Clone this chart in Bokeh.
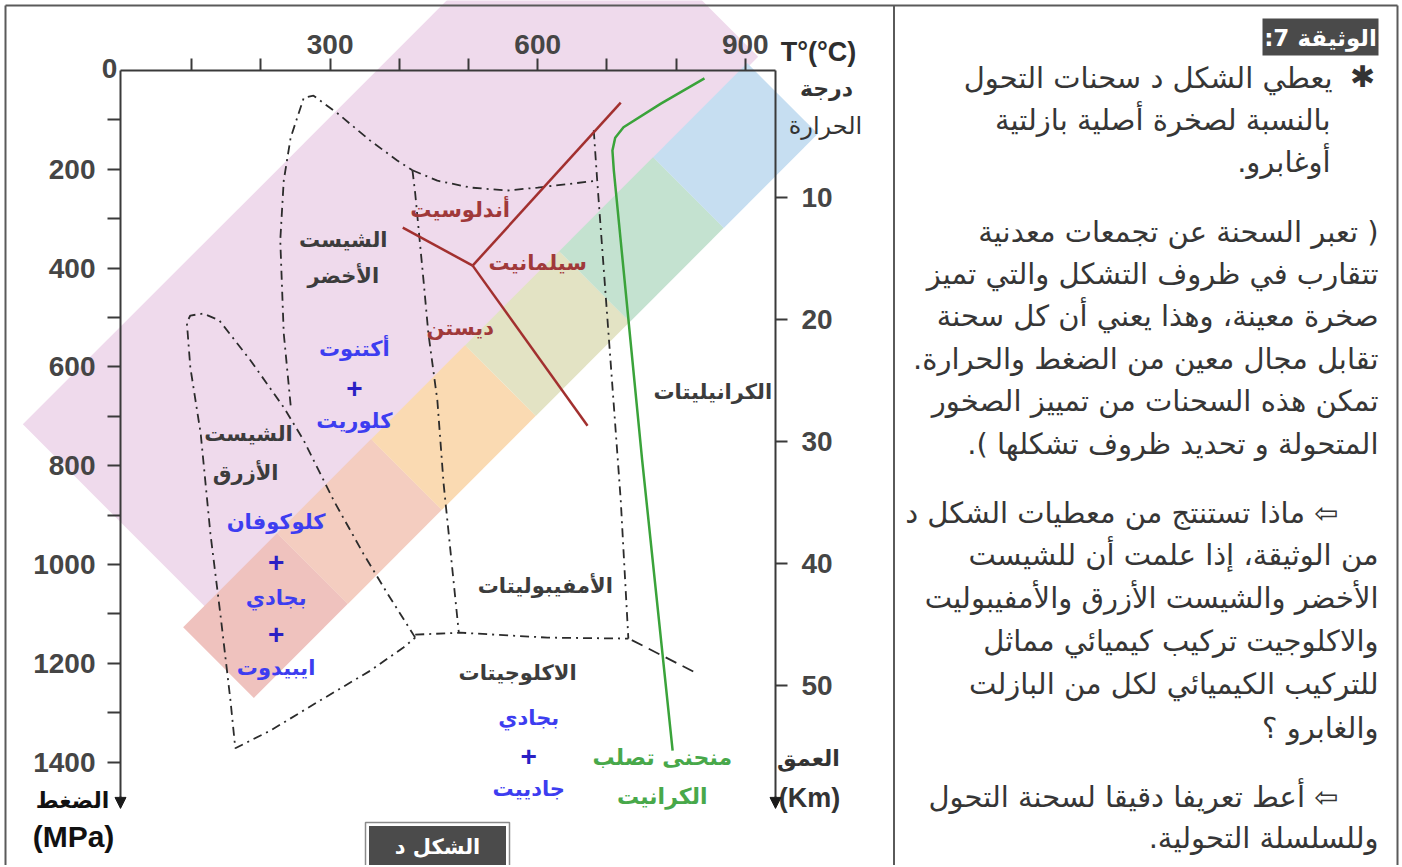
import numpy as np
from bokeh.plotting import figure
from bokeh.models import Range1d, LinearAxis, FixedTicker, Arrow, NormalHead
from bokeh.embed import file_html
from bokeh.resources import INLINE
from bokeh.core.properties import value

AR = "DejaVu Sans"
NUM = "Liberation Sans"
W, H = 1400, 865

# ---------------- data ----------------
temp_ticks = [100, 200, 300, 400, 500, 600, 700, 800, 900]
temp_tick_labels = {300: "300", 600: "600", 900: "900"}
pressure_ticks = [100, 200, 300, 400, 500, 600, 700, 800, 900, 1000, 1100, 1200, 1300, 1400]
pressure_tick_labels = {200: "200", 400: "400", 600: "600", 800: "800",
                        1000: "1000", 1200: "1200", 1400: "1400"}
depth_ticks = [10, 20, 30, 40, 50]

# facies boundaries (T in degC, P in MPa)
greenschist_T = [243, 233, 228, 233, 243, 262, 276, 311, 358, 397, 419]
greenschist_P = [678, 532, 344, 223, 136, 55, 51, 87, 142, 182, 202]
amph_top_T = [419, 455, 503, 556, 600, 686]
amph_top_P = [202, 223, 237, 243, 237, 223]
amph_left_T = [419, 423, 435, 442, 455, 464, 486]
amph_left_P = [202, 249, 425, 532, 668, 836, 1138]
amph_right_T = [681, 686, 710, 720, 731]
amph_right_P = [121, 223, 678, 870, 1150]
eclogite_top_T = [423, 488, 614, 731]
eclogite_top_P = [1142, 1138, 1148, 1150]
granulite_ext_T = [736, 831]
granulite_ext_P = [1153, 1221]
blueschist_T = [423, 383, 348, 305, 262, 233, 185, 140, 117, 98, 93, 98, 113, 127,
                142, 156, 163, 214, 286, 358, 406, 423]
blueschist_P = [1148, 1059, 978, 870, 749, 682, 587, 506, 492, 496, 510, 601, 735, 937,
                1107, 1275, 1372, 1336, 1275, 1215, 1168, 1148]

# aluminosilicate lines
and_sil_T = [506, 720]
and_sil_P = [395, 65]
ky_and_T = [405, 506]
ky_and_P = [318, 395]
ky_sil_T = [506, 672]
ky_sil_P = [395, 719]

# granite solidus
solidus_T = [841, 778, 724, 712, 708, 710, 751, 795]
solidus_P = [16, 67, 115, 136, 162, 202, 789, 1377]

# labels inside the diagram (T, P)
facies_text = ["الشيست", "الأخضر", "الشيست", "الأزرق", "الأمفيبوليتات", "الكرانيليتات", "الاكلوجيتات"]
facies_T = [319, 319, 182, 178, 611, 853, 571]
facies_P = [344, 415, 735, 814, 1043, 650, 1219]
alumino_text = ["أندلوسيت", "سيلمانيت", "ديستن"]
alumino_T = [488, 600, 488]
alumino_P = [283, 389, 522]
mineral_text = ["أكتنوت", "كلوريت", "كلوكوفان", "بجادي", "ايبيدوت", "بجادي", "جادييت"]
mineral_T = [335, 335, 222, 222, 222, 587, 587]
mineral_P = [563, 710, 913, 1067, 1210, 1310, 1455]
plus_T = [335, 222, 222, 587]
plus_P = [644, 996, 1142, 1389]
solidus_text = ["منحنى تصلب", "الكرانيت"]
solidus_text_T = [780, 780]
solidus_text_P = [1391, 1470]

# text panel
panel_lines = [
    "يعطي الشكل د سحنات التحول",
    "بالنسبة لصخرة أصلية بازلتية",
    ".أوغابرو",
    "تعبر السحنة عن تجمعات معدنية )",
    "تتقارب في ظروف التشكل والتي تميز",
    "صخرة معينة، وهذا يعني أن كل سحنة",
    ".تقابل مجال معين من الضغط والحرارة",
    "تمكن هذه السحنات من تمييز الصخور",
    ".( المتحولة و تحديد ظروف تشكلها",
    "ماذا تستنتج من معطيات الشكل د ⇦",
    "من الوثيقة، إذا علمت أن للشيست",
    "الأخضر والشيست الأزرق والأمفيبوليت",
    "والاكلوجيت تركيب كيميائي مماثل",
    "للتركيب الكيميائي لكل من البازلت",
    "والغابرو ؟",
    "أعط تعريفا دقيقا لسحنة التحول ⇦",
    ".وللسلسلة التحولية",
]

# ---------------- layout constants (pixels) ----------------
T_PX0, T_PXS = 122.0, 0.692      # x pixel of 0 degC, pixels per degC
P_PX0, P_PXS = 70.0, 0.494       # y pixel of 0 MPa, pixels per MPa
D_PX0, D_PXS = 75.0, 12.2        # y pixel of 0 km, pixels per km
AX_LEFT, AX_RIGHT, AX_BOTTOM = 120.0, 775.0, 800.0


def tx(v):
    return (v - T_PX0) / T_PXS


def ty(v):
    return (v - P_PX0) / P_PXS


def txs(vs):
    return [tx(v) for v in vs]


def tys(vs):
    return [ty(v) for v in vs]


t_axis_l, t_axis_r = tx(AX_LEFT), tx(AX_RIGHT)
p_axis_end = ty(AX_BOTTOM)
d_axis_top, d_axis_end = (P_PX0 - D_PX0) / D_PXS, (AX_BOTTOM - D_PX0) / D_PXS

p = figure(width=W, height=H, x_range=Range1d(tx(0), tx(W)), y_range=Range1d(ty(H), ty(0)),
           title=None, output_backend="svg", toolbar_location=None,
           x_axis_location=None, y_axis_location=None, min_border=0)
p.extra_y_ranges = {"depth": Range1d((H - D_PX0) / D_PXS, (0 - D_PX0) / D_PXS)}
p.xgrid.visible = False
p.ygrid.visible = False
p.outline_line_color = None
p.background_fill_color = "white"
p.border_fill_color = "white"

# ---- watermark (background decoration) ----
p.rect(x=txs([390]), y=tys([240]), width=780, height=260, width_units="screen",
       height_units="screen", angle=np.pi / 4, fill_color="#efdaec", line_color=None)
p.rect(x=txs([265, 359, 453, 547, 641, 735]), y=tys([615, 521, 427, 333, 239, 145]),
       width=133, height=100, width_units="screen", height_units="screen", angle=np.pi / 4,
       fill_color=["#efc2be", "#f4cdc0", "#fadab2", "#e3e3c4", "#c4e2d0", "#c6def1"],
       line_color=None)

# ---- page frame lines ----
p.segment(x0=txs([5, 5, 893.5, 1397]), y0=tys([5, 5, 5, 5]),
          x1=txs([1397, 5, 893.5, 1397]), y1=tys([5, H, H, H]),
          line_color="#5a5a5a", line_width=2)


# ---- axes ----
def style_axis(ax, out_len, standoff):
    ax.axis_line_color = "#3a3a3a"
    ax.axis_line_width = 2
    ax.major_tick_line_color = "#3a3a3a"
    ax.major_tick_line_width = 2
    ax.major_tick_in = 0
    ax.major_tick_out = out_len
    ax.minor_tick_line_color = None
    ax.major_label_text_font = NUM
    ax.major_label_text_font_size = "28px"
    ax.major_label_text_font_style = "bold"
    ax.major_label_text_color = "#454545"
    ax.major_label_standoff = standoff


top_axis = LinearAxis(ticker=FixedTicker(ticks=temp_ticks), fixed_location=0,
                      bounds=(t_axis_l, t_axis_r),
                      major_label_overrides={t: temp_tick_labels.get(t, "") for t in temp_ticks})
style_axis(top_axis, 12, 5)
p.add_layout(top_axis, "above")

left_axis = LinearAxis(ticker=FixedTicker(ticks=pressure_ticks), fixed_location=t_axis_l,
                       bounds=(0, p_axis_end),
                       major_label_overrides={t: pressure_tick_labels.get(t, "") for t in pressure_ticks})
style_axis(left_axis, 13, 12)
p.add_layout(left_axis, "left")

right_axis = LinearAxis(y_range_name="depth", ticker=FixedTicker(ticks=depth_ticks),
                        fixed_location=t_axis_r, bounds=(d_axis_top, d_axis_end))
style_axis(right_axis, 12, 14)
p.add_layout(right_axis, "right")

for xa in (t_axis_l, t_axis_r):
    p.add_layout(Arrow(end=NormalHead(size=11, fill_color="#1a1a1a", line_color="#1a1a1a", line_width=1),
                       x_start=xa, y_start=p_axis_end - 8, x_end=xa, y_end=p_axis_end + 16,
                       line_color="#2a2a2a", line_width=2))

# ---- facies boundaries ----
kline = dict(line_color="#2b2b2b", line_width=1.8, line_dash="9 5 2 5")
p.line(greenschist_T, greenschist_P, **kline)
p.line(amph_top_T, amph_top_P, **kline)
p.line(amph_left_T, amph_left_P, **kline)
p.line(amph_right_T, amph_right_P, **kline)
p.line(eclogite_top_T, eclogite_top_P, **kline)
p.line(blueschist_T, blueschist_P, **kline)
p.line(granulite_ext_T, granulite_ext_P, line_color="#2b2b2b", line_width=1.8, line_dash="12 7")

red = "#a2302f"
p.line(and_sil_T, and_sil_P, line_color=red, line_width=2.5)
p.line(ky_and_T, ky_and_P, line_color=red, line_width=2.5)
p.line(ky_sil_T, ky_sil_P, line_color=red, line_width=2.5)
p.line(solidus_T, solidus_P, line_color="#3aa33a", line_width=2.5)


# ---- labels ----
def tlabels(txt, xs, ys, color, size="21px", style="bold", font=AR, align="center"):
    p.text(x=xs, y=ys, text=txt, text_align=align, text_baseline="middle",
           text_font=value(font), text_font_size=size, text_font_style=style,
           text_color=color)


tlabels(facies_text, facies_T, facies_P, "#3c3c3c")
tlabels(alumino_text, alumino_T, alumino_P, "#a0393a")
tlabels(mineral_text, mineral_T, mineral_P, "#3d3df0")
tlabels(["+"] * len(plus_T), plus_T, plus_P, "#2a1fc4", size="28px", font=NUM)
tlabels(solidus_text, solidus_text_T, solidus_text_P, "#48a84a", size="22px")

# ---- axis titles and captions (pixel positions) ----
tlabels(["0"], txs([109]), tys([68]), "#454545", size="28px", font=NUM)
tlabels(["T°(°C)"], txs([818]), tys([51]), "#2e2e2e", size="27px", font=NUM)
tlabels(["درجة"], txs([826]), tys([88]), "#333333", size="22px")
tlabels(["الحرارة"], txs([825]), tys([125]), "#333333", size="24px", style="normal")
tlabels(["العمق"], txs([808]), tys([758]), "#333333", size="22px")
tlabels(["(Km)"], txs([809]), tys([797]), "#333333", size="27px", font=NUM)
tlabels(["الضغط"], txs([72]), tys([800]), "#111111", size="22px")
tlabels(["(MPa)"], txs([73]), tys([836]), "#111111", size="30px", font=NUM)

p.quad(left=txs([365]), right=txs([509]), top=tys([822]), bottom=tys([870]), fill_color="white",
       line_color="#8a8a8a", line_width=1.5)
p.quad(left=txs([368.5]), right=txs([505.5]), top=tys([825.5]), bottom=tys([870]),
       fill_color="#4b4b4b", line_color=None)
tlabels(["الشكل د"], txs([437]), tys([846]), "white", size="21px")

# ---- text panel ----
p.quad(left=txs([1262]), right=txs([1378]), top=tys([18]), bottom=tys([55]),
       fill_color="#4a4a4a", line_color=None)
tlabels([":7 الوثيقة"], txs([1320]), tys([37]), "white", size="23px")
tlabels(["✱"], txs([1362]), tys([76]), "#333333", size="30px")
tlabels(panel_lines,
        txs([1332, 1330, 1330, 1378, 1378, 1378, 1378, 1378, 1378, 1338,
             1378, 1378, 1378, 1378, 1378, 1338, 1378]),
        tys([77, 119, 161, 231, 273, 315, 358, 400, 443, 512,
             554, 597, 640, 683, 727, 796, 837]),
        "#363636", size="29px", style="normal", align="right")

open("out.html", "w").write(file_html(p, INLINE))
